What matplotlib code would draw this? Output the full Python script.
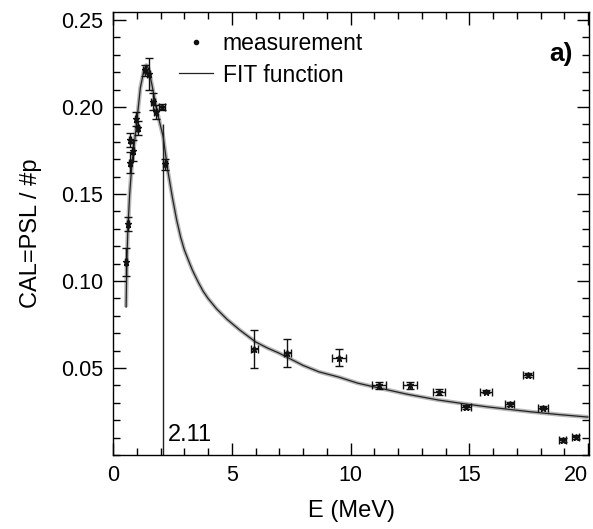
import matplotlib
matplotlib.use("Agg")
import matplotlib.pyplot as plt
from matplotlib.ticker import MultipleLocator

plt.rcParams["font.family"] = ["Liberation Sans", "DejaVu Sans"]

# measured points: energy (MeV), CAL=PSL/#p, errors
meas_e = [0.55, 0.63, 0.72, 0.70, 0.84, 0.96, 1.05, 1.34, 1.50, 1.68, 1.80, 2.05,
          2.18, 5.95, 7.33, 9.51, 11.19, 12.50, 13.74, 14.87, 15.71, 16.70,
          17.47, 18.10, 18.94, 19.48]
meas_y = [0.111, 0.133, 0.168, 0.181, 0.175, 0.193, 0.188, 0.221, 0.219, 0.203,
          0.197, 0.200, 0.167, 0.061, 0.0586, 0.0559, 0.0402, 0.0402, 0.0362,
          0.0276, 0.0364, 0.0293, 0.0460, 0.0272, 0.0086, 0.0104]
meas_xerr = [0.03, 0.03, 0.04, 0.04, 0.04, 0.05, 0.05, 0.06, 0.06, 0.07, 0.07, 0.12,
             0.08, 0.15, 0.15, 0.30, 0.30, 0.30, 0.25, 0.20, 0.25, 0.20, 0.20,
             0.20, 0.15, 0.15]
meas_yerr = [0.008, 0.004, 0.006, 0.004, 0.006, 0.004, 0.004, 0.003, 0.009, 0.005,
             0.004, 0.002, 0.003, 0.011, 0.008, 0.005, 0.002, 0.002, 0.002, 0.001,
             0.001, 0.001, 0.001, 0.001, 0.001, 0.001]

# fit curve
fit_e = [0.55, 0.58, 0.62, 0.70, 0.80, 0.95, 1.05, 1.15, 1.30, 1.40, 1.50, 1.65,
         1.80, 1.95, 2.11, 2.30, 2.50, 2.68, 2.85, 3.00, 3.20, 3.35, 3.60, 3.80,
         4.00, 4.36, 4.80, 5.32, 6.00, 6.50, 7.00, 7.40, 8.00, 8.67, 9.50, 10.30,
         11.20, 12.40, 13.70, 14.70, 15.80, 16.70, 17.60, 18.80, 20.00]
fit_y = [0.085, 0.110, 0.128, 0.150, 0.168, 0.185, 0.198, 0.211, 0.221, 0.224,
         0.222, 0.212, 0.201, 0.192, 0.183, 0.164, 0.148, 0.135, 0.125, 0.118,
         0.111, 0.106, 0.099, 0.094, 0.090, 0.084, 0.078, 0.072, 0.065, 0.0615,
         0.0585, 0.0557, 0.0515, 0.0478, 0.0448, 0.0413, 0.0385, 0.0349, 0.0316,
         0.0296, 0.0276, 0.0262, 0.0248, 0.0232, 0.0218]

peak_e = 2.11
peak_top = 0.19


def main():
    fig = plt.figure(figsize=(5.93, 5.29), dpi=100)
    ax = fig.add_axes([0.1906, 0.1399, 0.8030, 0.8374])

    ax.plot(fit_e, fit_y, color="#b8b8b8", lw=3.0, solid_capstyle="butt", zorder=1)
    ax.plot(fit_e, fit_y, color="#222222", lw=0.9, zorder=2, label="FIT function")
    ax.vlines(peak_e, 0, peak_top, color="#222222", lw=1.0, zorder=2)

    ax.errorbar(meas_e, meas_y, xerr=meas_xerr, yerr=meas_yerr, fmt="*",
                color="#111111", ms=5, elinewidth=1.0, capsize=3, capthick=1.0,
                zorder=3)
    ax.plot([], [], ".", color="#111111", ms=6, label="measurement")

    ax.text(peak_e + 0.2, 0.005, "2.11", fontsize=17, ha="left", va="bottom")
    ax.text(0.965, 0.905, "a)", transform=ax.transAxes, fontsize=19,
            fontweight="bold", ha="right", va="center")

    h, l = ax.get_legend_handles_labels()
    ax.legend(h[::-1], l[::-1], loc="upper left", bbox_to_anchor=(0.105, 0.99),
              frameon=False, fontsize=16.5, handlelength=1.5, handletextpad=0.4,
              labelspacing=0.35, borderaxespad=0.3)

    ax.set_xlim(0, 20.05)
    ax.set_ylim(0, 0.2546)
    ax.set_xticks([0, 5, 10, 15, 20])
    ax.set_yticks([0.05, 0.10, 0.15, 0.20, 0.25])
    ax.set_yticklabels(["0.05", "0.10", "0.15", "0.20", "0.25"])
    ax.xaxis.set_minor_locator(MultipleLocator(1))
    ax.yaxis.set_minor_locator(MultipleLocator(0.01))
    ax.tick_params(which="both", direction="in", top=True, right=True,
                   labelsize=15.5, width=1.0)
    ax.tick_params(which="major", length=9, pad=7)
    ax.tick_params(which="minor", length=5)
    ax.get_xticklabels()[-1].set_horizontalalignment("right")
    for s in ax.spines.values():
        s.set_linewidth(1.0)

    ax.set_xlabel("E (MeV)", fontsize=17, labelpad=10)
    ax.set_ylabel("CAL=PSL / #p", fontsize=17, labelpad=14)

    fig.savefig("out.png", dpi=100)


if __name__ == "__main__":
    main()
